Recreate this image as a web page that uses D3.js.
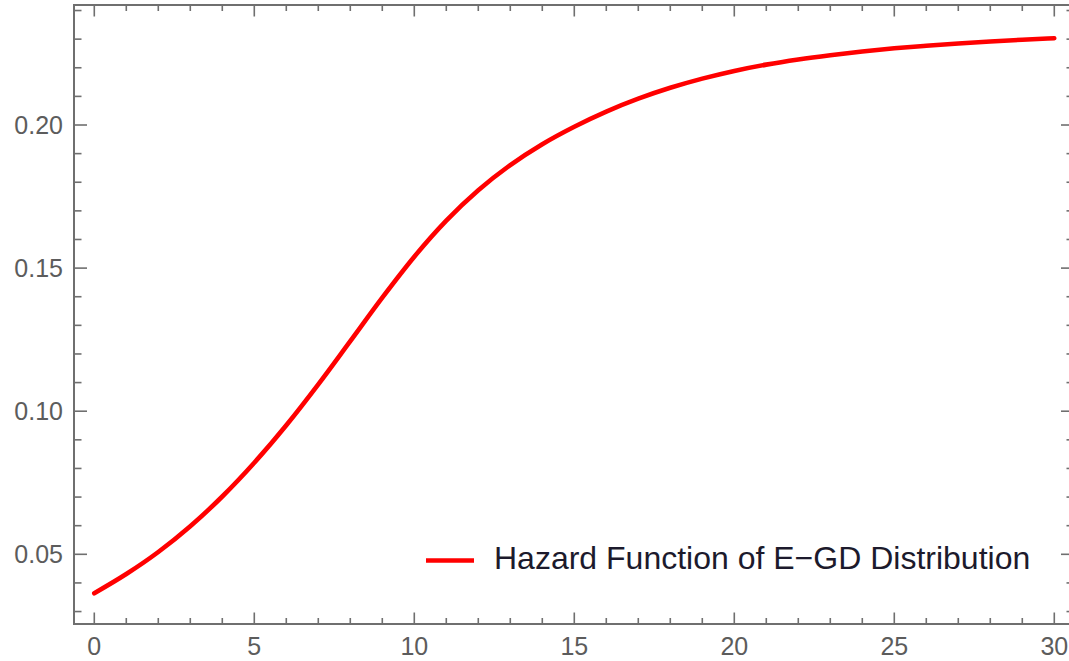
<!DOCTYPE html>
<html>
<head>
<meta charset="utf-8">
<script src="https://cdn.jsdelivr.net/npm/d3@7"></script>
<style>
  html, body { margin: 0; padding: 0; background: #fff; }
  svg { display: block; }
  text { font-family: "Liberation Sans", Arial, sans-serif; }
</style>
</head>
<body>
<svg id="chart" width="1069" height="661"></svg>
<script>
// Hazard function of the E-GD distribution, sampled at t = 0..30
const tValues = [0, 1, 2, 3, 4, 5, 6, 7, 8, 9, 10, 11, 12, 13, 14, 15,
                 16, 17, 18, 19, 20, 21, 22, 23, 24, 25, 26, 27, 28, 29, 30];
const hazard = [0.0364, 0.0431, 0.0508, 0.0598, 0.0702, 0.0820, 0.0951, 0.1094,
                0.1245, 0.1397, 0.1540, 0.1666, 0.1772, 0.1860, 0.1933, 0.1994,
                0.2047, 0.2092, 0.2130, 0.2162, 0.2189, 0.2211, 0.2229, 0.2244,
                0.2257, 0.2268, 0.2277, 0.2285, 0.2292, 0.2298, 0.2303];

const xMajorTicks = [0, 5, 10, 15, 20, 25, 30];
const xMinorTicks = d3.range(0, 31, 1).filter(v => v % 5 !== 0);
const yMajorTicks = [0.05, 0.10, 0.15, 0.20];
const yMinorTicks = [0.03, 0.04, 0.06, 0.07, 0.08, 0.09, 0.11, 0.12, 0.13, 0.14,
                     0.16, 0.17, 0.18, 0.19, 0.21, 0.22, 0.23, 0.24];
const legendLabel = "Hazard Function of E\u2212GD Distribution";

const svg = d3.select("#chart");

// plot frame (right edge sits just past the canvas)
const frame = { left: 74, right: 1074, top: 5, bottom: 624 };

const x = d3.scaleLinear()
  .domain([-0.634, 30.616])
  .range([frame.left, frame.right]);
const y = d3.scaleLinear()
  .domain([0.02565, 0.24193])
  .range([frame.bottom, frame.top]);

const frameColor = "#6f6f6f";
const labelColor = "#5c5c5c";

// frame ticks, pointing inward on all four sides
function tickSet(g, scale, ticks, len, orient) {
  const sel = g.selectAll(null).data(ticks).enter().append("line")
    .attr("stroke", frameColor).attr("stroke-width", 1.6);
  if (orient === "bottom") {
    sel.attr("x1", d => scale(d)).attr("x2", d => scale(d))
       .attr("y1", frame.bottom).attr("y2", frame.bottom - len);
  } else if (orient === "top") {
    sel.attr("x1", d => scale(d)).attr("x2", d => scale(d))
       .attr("y1", frame.top).attr("y2", frame.top + len);
  } else if (orient === "left") {
    sel.attr("y1", d => scale(d)).attr("y2", d => scale(d))
       .attr("x1", frame.left).attr("x2", frame.left + len);
  } else {
    sel.attr("y1", d => scale(d)).attr("y2", d => scale(d))
       .attr("x1", frame.right).attr("x2", frame.right - len);
  }
}

const ticksG = svg.append("g");
tickSet(ticksG, x, xMajorTicks, 11.5, "bottom");
tickSet(ticksG, x, xMinorTicks, 6, "bottom");
tickSet(ticksG, x, xMajorTicks, 11.5, "top");
tickSet(ticksG, x, xMinorTicks, 6, "top");
tickSet(ticksG, y, yMajorTicks, 13, "left");
tickSet(ticksG, y, yMinorTicks, 7.5, "left");
tickSet(ticksG, y, yMajorTicks, 13, "right");
tickSet(ticksG, y, yMinorTicks, 7.5, "right");

svg.append("rect")
  .attr("x", frame.left).attr("y", frame.top)
  .attr("width", frame.right - frame.left)
  .attr("height", frame.bottom - frame.top)
  .attr("fill", "none")
  .attr("stroke", frameColor)
  .attr("stroke-width", 2);

// tick labels
svg.append("g").selectAll("text").data(xMajorTicks).enter().append("text")
  .attr("x", d => x(d))
  .attr("y", 655)
  .attr("text-anchor", "middle")
  .attr("font-size", 25)
  .attr("fill", labelColor)
  .text(d => d);

svg.append("g").selectAll("text").data(yMajorTicks).enter().append("text")
  .attr("x", 63)
  .attr("y", d => y(d))
  .attr("dy", "0.36em")
  .attr("text-anchor", "end")
  .attr("font-size", 25)
  .attr("fill", labelColor)
  .text(d => d3.format(".2f")(d));

// hazard curve
const points = tValues.map((t, i) => [t, hazard[i]]);
const line = d3.line()
  .x(d => x(d[0]))
  .y(d => y(d[1]))
  .curve(d3.curveMonotoneX);

svg.append("path")
  .datum(points)
  .attr("d", line)
  .attr("fill", "none")
  .attr("stroke", "#ff0000")
  .attr("stroke-width", 4.6)
  .attr("stroke-linejoin", "round")
  .attr("stroke-linecap", "round");

// legend
const legend = svg.append("g");
legend.append("line")
  .attr("x1", 426).attr("x2", 474)
  .attr("y1", 560.5).attr("y2", 560.5)
  .attr("stroke", "#ff0000")
  .attr("stroke-width", 4.6);
legend.append("text")
  .attr("x", 494)
  .attr("y", 569)
  .attr("font-size", 32)
  .attr("fill", "#1c1a2c")
  .text(legendLabel);
</script>
</body>
</html>
